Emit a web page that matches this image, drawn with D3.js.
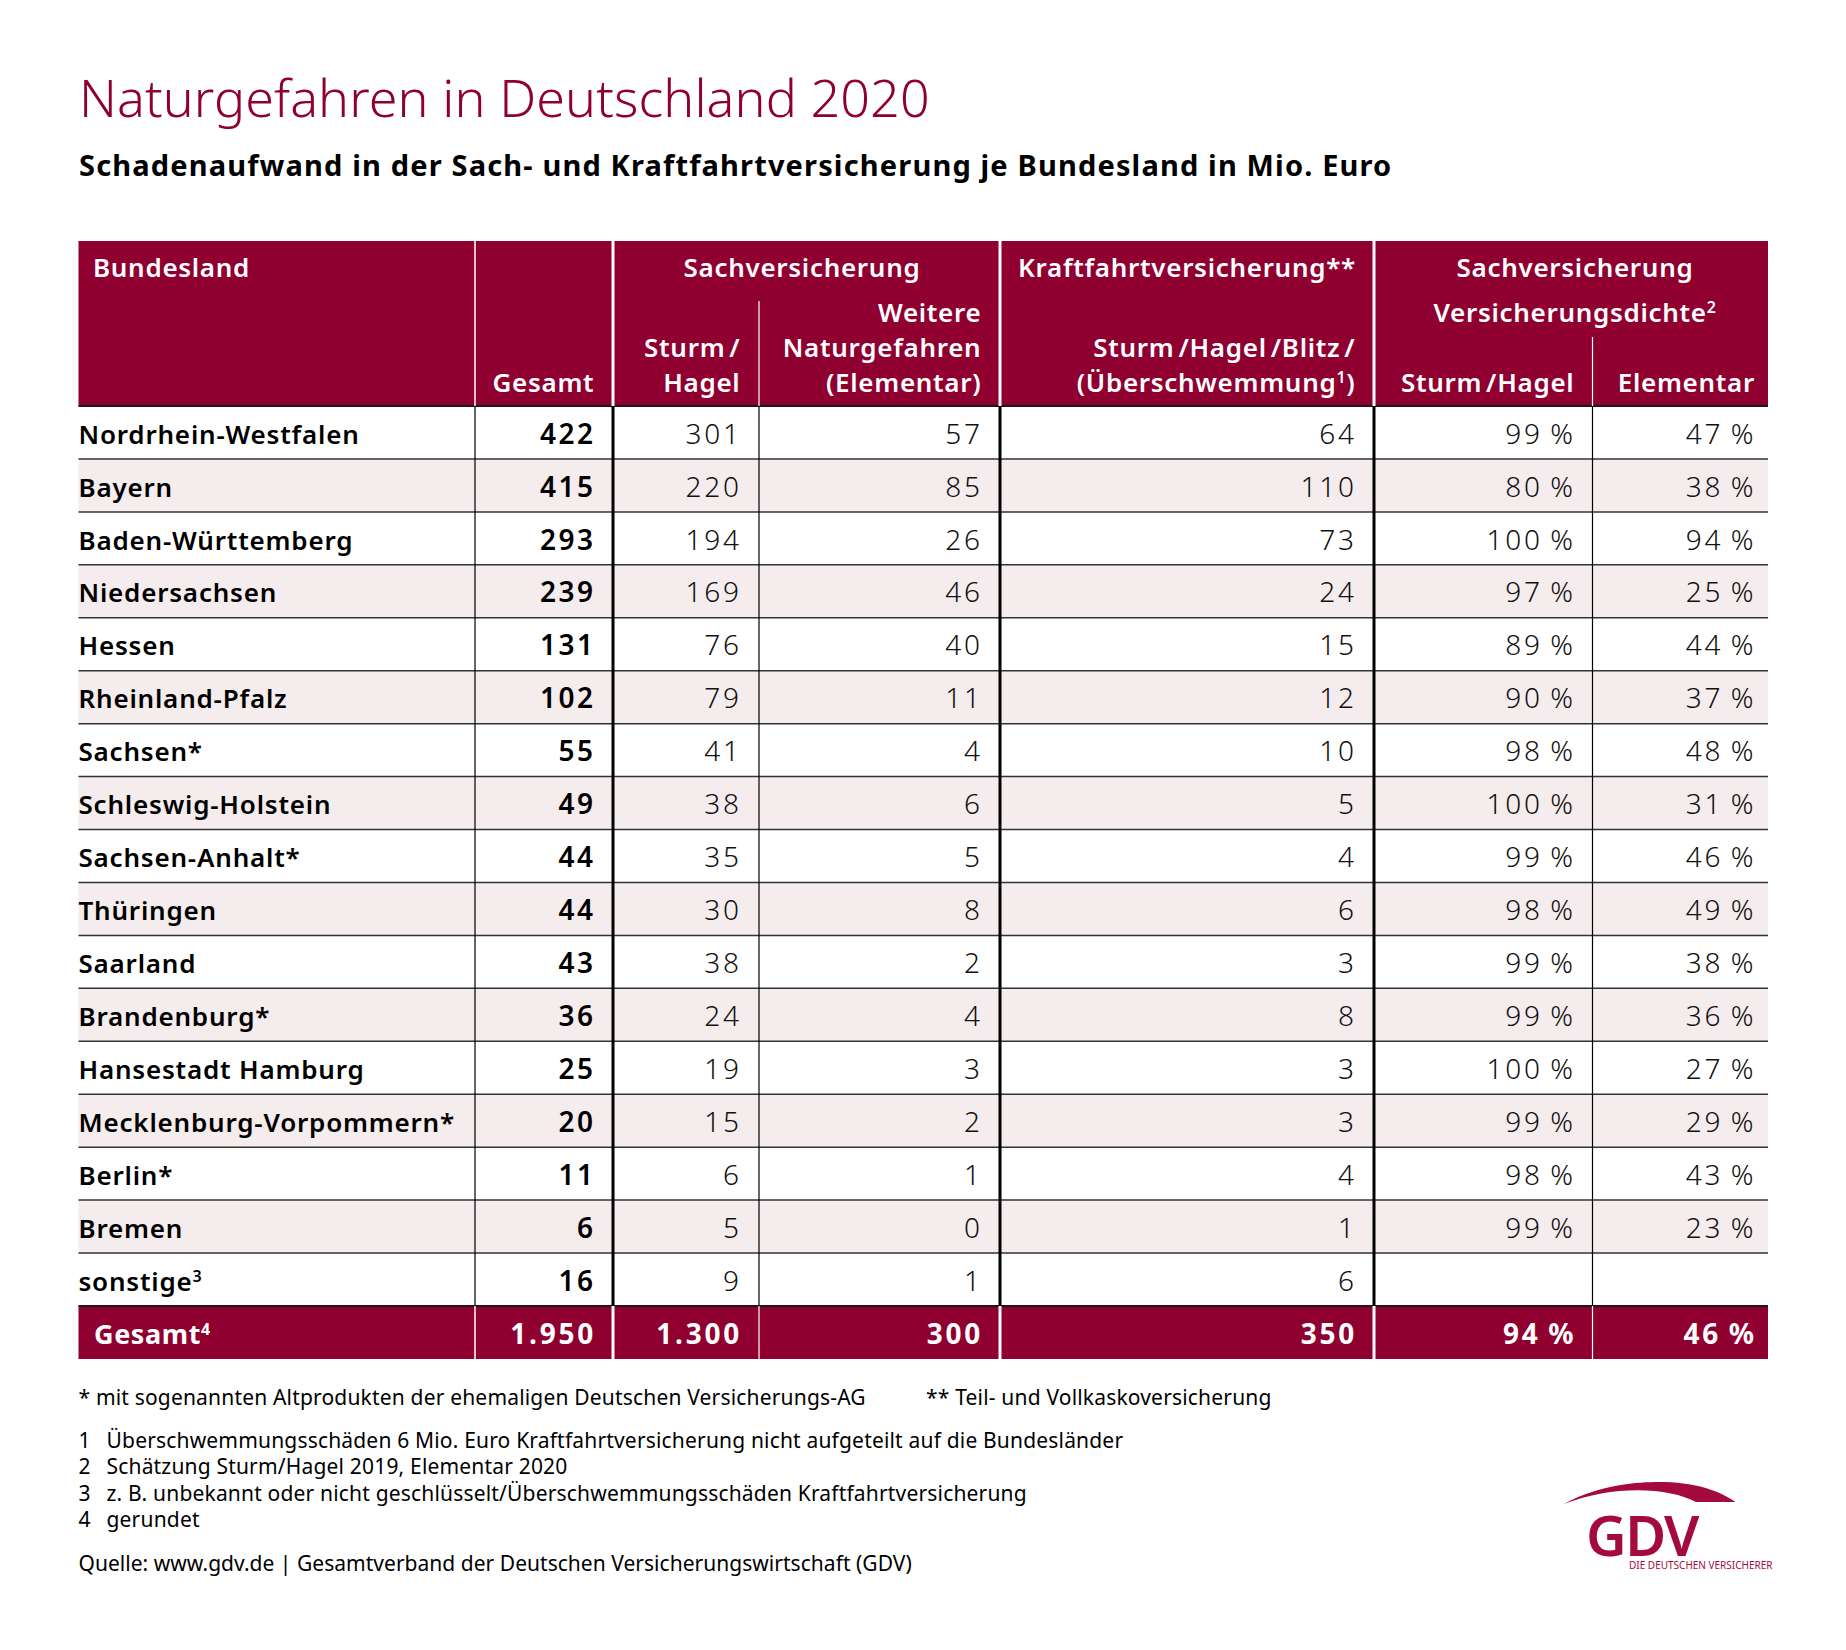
<!DOCTYPE html>
<html lang="de">
<head>
<meta charset="utf-8">
<title>Naturgefahren in Deutschland 2020</title>
<script src="https://cdn.jsdelivr.net/npm/d3@7"></script>
<style>
  html, body { margin: 0; background: #fff; }
  text { font-family: "Noto Sans", sans-serif; }
  .title { font-size: 52px; font-weight: 300; fill: #8f0030; letter-spacing: 0.1px; }
  .subtitle { font-size: 29px; font-weight: 700; fill: #000; letter-spacing: 1.15px; }
  .head { font-size: 26px; font-weight: 600; fill: #fff; letter-spacing: 0.7px; }
  .land { font-size: 26px; font-weight: 600; fill: #000; letter-spacing: 0.8px; }
  .total { font-size: 28px; font-weight: 600; fill: #000; letter-spacing: 2.5px; }
  .num { font-size: 28px; font-weight: 300; fill: #111; letter-spacing: 2.8px; }
  .sum { font-size: 28px; font-weight: 700; fill: #fff; letter-spacing: 2.8px; }
  .sumLabel { font-size: 27px; font-weight: 700; fill: #fff; letter-spacing: 0.6px; }
  .note { font-size: 21px; font-weight: 400; fill: #000; letter-spacing: 0.18px; }
  .source { font-size: 21px; font-weight: 400; fill: #000; letter-spacing: 0.03px; }
</style>
</head>
<body>
<svg id="chart" width="1846" height="1650"></svg>
<script>
var states = ["Nordrhein-Westfalen", "Bayern", "Baden-Württemberg", "Niedersachsen", "Hessen", "Rheinland-Pfalz",
  "Sachsen*", "Schleswig-Holstein", "Sachsen-Anhalt*", "Thüringen", "Saarland", "Brandenburg*",
  "Hansestadt Hamburg", "Mecklenburg-Vorpommern*", "Berlin*", "Bremen", "sonstige^3"];
var gesamt = [422, 415, 293, 239, 131, 102, 55, 49, 44, 44, 43, 36, 25, 20, 11, 6, 16];
var sturmHagel = [301, 220, 194, 169, 76, 79, 41, 38, 35, 30, 38, 24, 19, 15, 6, 5, 9];
var elementar = [57, 85, 26, 46, 40, 11, 4, 6, 5, 8, 2, 4, 3, 2, 1, 0, 1];
var kraftfahrt = [64, 110, 73, 24, 15, 12, 10, 5, 4, 6, 3, 8, 3, 3, 4, 1, 6];
var dichteSturm = [99, 80, 100, 97, 89, 90, 98, 100, 99, 98, 99, 99, 100, 99, 98, 99, null];
var dichteElementar = [47, 38, 94, 25, 44, 37, 48, 31, 46, 49, 38, 36, 27, 29, 43, 23, null];
var totalsRow = [1950, 1300, 300, 350];
var totalsPercent = [94, 46];
var footnotesTop = ["* mit sogenannten Altprodukten der ehemaligen Deutschen Versicherungs-AG", "** Teil- und Vollkaskoversicherung"];
var footnotes = [
  ["1", "Überschwemmungsschäden 6 Mio. Euro Kraftfahrtversicherung nicht aufgeteilt auf die Bundesländer"],
  ["2", "Schätzung Sturm/Hagel 2019, Elementar 2020"],
  ["3", "z. B. unbekannt oder nicht geschlüsselt/Überschwemmungsschäden Kraftfahrtversicherung"],
  ["4", "gerundet"]
];
var source = "Quelle: www.gdv.de | Gesamtverband der Deutschen Versicherungswirtschaft (GDV)";

var WINE = "#8f0030", ROSE = "#f5eced", LOGO = "#a50a3c";
var left = 78.5, right = 1768, headTop = 241, headBottom = 406, rowsBottom = 1306, tableBottom = 1359;

// column edges and the right hand text edge of each number column
var edges = [475, 613, 759, 1000, 1374, 1592.5];
var textRight = { gesamt: 594, sturm: 740, elem: 981, kfz: 1355, dSturm: 1574, dElem: 1754.5 };
// letter spacing also trails the last glyph, so end anchored text moves out by about that much
var trail = { head: 0.4, total: 1.5, num: 1.8, sum: 2.2 };

var svg = d3.select("#chart");
var de = d3.formatLocale({ decimal: ",", thousands: ".", grouping: [3], currency: ["", " €"] });
var fmt = de.format(",d");
var pct = function (v) { return v + "\u2009%"; };

var y = d3.scaleBand().domain(d3.range(states.length)).range([headBottom, rowsBottom]);

// text with ^n parts raised as superscript; the slash in head cells gets some air
function label(g, x, yPos, str, cls, anchor) {
  var t = g.append("text").attr("x", x).attr("y", yPos).attr("class", cls).attr("text-anchor", anchor || "start");
  var raised = false;
  str.split(/(\^\d|\/)/).forEach(function (part) {
    if (part.charAt(0) === "^") {
      t.append("tspan").attr("dy", -9).style("font-size", "16px").text(part.slice(1));
      raised = true;
    } else if (part) {
      t.append("tspan")
        .attr("dy", raised ? 9 : null)
        .attr("dx", part === "/" && cls === "head" ? 4 : null)
        .text(part);
      raised = false;
    }
  });
  return t;
}
// right aligned cell of a given class
function cell(g, x, yPos, str, cls) {
  return label(g, x + trail[cls], yPos, str, cls, "end");
}

// head and total bands
svg.append("rect").attr("x", left).attr("y", headTop).attr("width", right - left).attr("height", headBottom - headTop).attr("fill", WINE);
svg.append("rect").attr("x", left).attr("y", rowsBottom).attr("width", right - left).attr("height", tableBottom - rowsBottom).attr("fill", WINE);

// striped rows
svg.append("g").selectAll("rect").data(states).join("rect")
  .attr("x", left).attr("width", right - left)
  .attr("y", function (d, i) { return y(i); })
  .attr("height", y.bandwidth())
  .attr("fill", function (d, i) { return i % 2 ? ROSE : "#fff"; });

// row rules
svg.append("g").selectAll("line").data(d3.range(states.length + 1)).join("line")
  .attr("x1", left).attr("x2", right)
  .attr("y1", function (i) { return i === states.length ? rowsBottom : y(i); })
  .attr("y2", function (i) { return i === states.length ? rowsBottom : y(i); })
  .attr("stroke", function (i) { return i === 0 || i === states.length ? "#1a1a1a" : "#333"; })
  .attr("stroke-width", function (i) { return i === 0 || i === states.length ? 2 : 1.5; });

// column rules: [x, head top, white width, black width]
var rules = [
  [edges[0], headTop, 1.5, 1.2], [edges[1], headTop, 3, 3], [edges[2], 301, 1.2, 1.2],
  [edges[3], headTop, 3, 3], [edges[4], headTop, 3, 3], [edges[5], 337, 1.2, 1.2]
];
var colRules = svg.append("g");
rules.forEach(function (r) {
  colRules.append("line").attr("x1", r[0]).attr("x2", r[0]).attr("y1", r[1]).attr("y2", headBottom)
    .attr("stroke", "#fff").attr("stroke-width", r[2]);
  colRules.append("line").attr("x1", r[0]).attr("x2", r[0]).attr("y1", headBottom).attr("y2", rowsBottom)
    .attr("stroke", "#000").attr("stroke-width", r[3]);
  colRules.append("line").attr("x1", r[0]).attr("x2", r[0]).attr("y1", rowsBottom).attr("y2", tableBottom)
    .attr("stroke", "#fff").attr("stroke-width", r[2]);
});

// title
label(svg, 79, 117, "Naturgefahren in Deutschland 2020", "title");
label(svg, 79, 176, "Schadenaufwand in der Sach- und Kraftfahrtversicherung je Bundesland in Mio. Euro", "subtitle");

// head
var head = svg.append("g");
label(head, 93, 277, "Bundesland", "head");
cell(head, textRight.gesamt, 392, "Gesamt", "head");
label(head, 802, 277, "Sachversicherung", "head", "middle");
cell(head, textRight.sturm, 357, "Sturm/", "head");
cell(head, textRight.sturm, 392, "Hagel", "head");
cell(head, textRight.elem, 322, "Weitere", "head");
cell(head, textRight.elem, 357, "Naturgefahren", "head");
cell(head, textRight.elem, 392, "(Elementar)", "head");
label(head, 1187, 277, "Kraftfahrtversicherung**", "head", "middle");
cell(head, textRight.kfz, 357, "Sturm/Hagel/Blitz/", "head");
cell(head, textRight.kfz, 392, "(Überschwemmung^1)", "head");
label(head, 1575, 277, "Sachversicherung", "head", "middle");
label(head, 1575, 322, "Versicherungsdichte^2", "head", "middle");
cell(head, textRight.dSturm, 392, "Sturm/Hagel", "head");
cell(head, textRight.dElem, 392, "Elementar", "head");

// body rows
var body = svg.append("g");
states.forEach(function (s, i) {
  var base = y(i) + y.bandwidth() - 15.3;
  label(body, 78.5, base, s, "land");
  cell(body, textRight.gesamt, base, fmt(gesamt[i]), "total");
  cell(body, textRight.sturm, base, fmt(sturmHagel[i]), "num");
  cell(body, textRight.elem, base, fmt(elementar[i]), "num");
  cell(body, textRight.kfz, base, fmt(kraftfahrt[i]), "num");
  if (dichteSturm[i] !== null) cell(body, textRight.dSturm, base, pct(dichteSturm[i]), "num");
  if (dichteElementar[i] !== null) cell(body, textRight.dElem, base, pct(dichteElementar[i]), "num");
});

// total row
var sumY = 1344;
label(svg, 94, sumY, "Gesamt^4", "sumLabel");
[textRight.gesamt, textRight.sturm, textRight.elem, textRight.kfz].forEach(function (x, i) {
  cell(svg, x, sumY, fmt(totalsRow[i]), "sum");
});
[textRight.dSturm, textRight.dElem].forEach(function (x, i) {
  cell(svg, x, sumY, pct(totalsPercent[i]), "sum");
});

// notes
label(svg, 78.5, 1405, footnotesTop[0], "note");
label(svg, 926, 1405, footnotesTop[1], "note");
var noteY = d3.scalePoint().domain(d3.range(footnotes.length)).range([1448, 1527]);
footnotes.forEach(function (f, i) {
  label(svg, 78.5, noteY(i), f[0], "note");
  label(svg, 106.5, noteY(i), f[1], "note");
});
label(svg, 78.5, 1571, source, "source");

// GDV logo
svg.append("path")
  .attr("d", "M1564,1504 C1600,1484 1640,1482 1658,1482 C1695,1482 1718,1490 1735.5,1502 L1696,1502 C1670,1488 1615,1484 1564,1504 Z")
  .attr("fill", LOGO);
svg.append("text").attr("x", 1586).attr("y", 1556).attr("fill", LOGO)
  .style("font-size", "56px").style("font-weight", "600").style("letter-spacing", "-1.5px").text("GDV");
svg.append("text").attr("x", 1629).attr("y", 1569).attr("fill", LOGO)
  .style("font-size", "10px").style("font-weight", "400").text("DIE DEUTSCHEN VERSICHERER");
</script>
</body>
</html>
